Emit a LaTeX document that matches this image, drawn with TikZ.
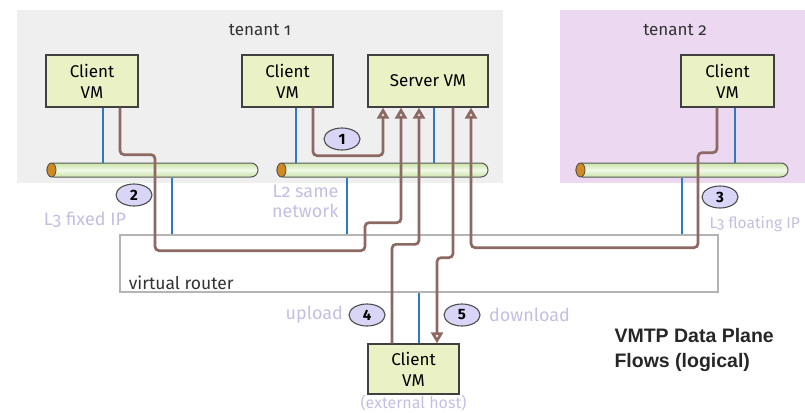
\documentclass[tikz,border=0pt]{standalone}
\usepackage{fontspec}
\setmainfont{Fira Sans}
\newfontfamily\oldfigs[Numbers=OldStyle]{Fira Sans}
\newfontfamily\arialfont{Liberation Sans}
\usetikzlibrary{positioning, arrows.meta, shapes.geometric}
\definecolor{tenantgray}{HTML}{EFEFEF}
\definecolor{tenantpink}{HTML}{ECD8F0}
\definecolor{vmgreen}{HTML}{EAF1C4}
\definecolor{busgreen}{HTML}{C9E3A6}
\definecolor{caporange}{HTML}{D08A22}
\definecolor{linkblue}{HTML}{2F78C6}
\definecolor{flowbrown}{HTML}{8C6963}
\definecolor{steplav}{HTML}{D9D5F6}
\definecolor{notelav}{HTML}{C6BEE2}
\definecolor{routergray}{HTML}{B4B4B4}

\begin{document}
\begin{tikzpicture}[x=1pt, y=-1pt, node distance=4pt,
    vm/.style={draw=black!75, fill=vmgreen, line width=1.3pt, align=center, inner sep=0pt, font=\fontsize{17}{21}\selectfont},
    bus/.style={draw=black!65, line width=1pt, rounded corners=7pt, minimum height=14pt, inner sep=0pt, top color=busgreen, bottom color=busgreen, middle color=busgreen!25},
    bus end/.style={ellipse, draw=black!70, fill=caporange, line width=0.8pt, minimum width=9pt, minimum height=14pt, inner sep=0pt},
    link/.style={draw=linkblue, line width=2.8pt},
    flow/.style={draw=flowbrown, line width=2.7pt, rounded corners=4pt},
    flow arrow/.style={flow, -{Triangle[open, length=11pt, width=12pt]}},
    step no/.style={ellipse, draw=black!70, fill=steplav, line width=1.1pt, minimum width=36pt, minimum height=22pt, inner sep=0pt, font=\bfseries\fontsize{15}{15}\selectfont},
    note/.style={text=notelav, font=\oldfigs\fontsize{18}{20}\selectfont},
    title/.style={text=black!80, font=\oldfigs\fontsize{17}{20}\selectfont}]
    \useasboundingbox (0,0) rectangle (805,412);

    \node[fill=tenantgray, minimum width=486pt, minimum height=173pt, inner sep=0pt, anchor=north west] (tenant 1) at (17,10) {};
    \node[fill=tenantpink, minimum width=270pt, minimum height=173pt, inner sep=0pt, anchor=north west] (tenant 2) at (560,10) {};
    \node[title] (tenant 1 title) at (260,30) {tenant 1};
    \node[title] (tenant 2 title) at (675,30) {tenant 2};

    \node[draw=routergray, line width=1.5pt, minimum width=598pt, minimum height=57pt, inner sep=0pt] (virtual router) at (419,263.5) {};
    \node[title, anchor=south west, font=\fontsize{17.5}{20}\selectfont] (router label) at ([xshift=6pt, yshift=0pt]virtual router.south west) {virtual router};

    \node[bus, minimum width=211pt] (bus 1) at (152.5,170) {};
    \node[bus, minimum width=211pt] (bus 2) at (382.5,170) {};
    \node[bus, minimum width=212pt] (bus 3) at (682,170) {};
    \node[bus end] (bus end 1) at ([xshift=5pt]bus 1.west) {};
    \node[bus end] (bus end 2) at ([xshift=5pt]bus 2.west) {};
    \node[bus end] (bus end 3) at ([xshift=5pt]bus 3.west) {};

    \node[vm, minimum width=92pt, minimum height=52pt] (client vm 1) at (92,81) {Client\\VM};
    \node[vm, minimum width=91pt, minimum height=52pt] (client vm 2) at (287.5,81) {Client\\VM};
    \node[vm, minimum width=120pt, minimum height=52pt] (server vm) at (428,81) {Server VM};
    \node[vm, minimum width=93pt, minimum height=52pt] (client vm 3) at (727.5,81) {Client\\VM};
    \node[vm, minimum width=91pt, minimum height=50pt] (external vm) at (413.5,369) {Client\\VM};

    \draw[link] ([xshift=11pt]client vm 1.south) -- ([xshift=11pt]client vm 1.south |- bus 1.north);
    \draw[link] ([xshift=8.5pt]client vm 2.south) -- ([xshift=8.5pt]client vm 2.south |- bus 2.north);
    \draw[link] ([xshift=6pt]server vm.south) -- ([xshift=6pt]server vm.south |- bus 2.north);
    \draw[link] ([xshift=7.5pt]client vm 3.south) -- ([xshift=7.5pt]client vm 3.south |- bus 3.north);
    \draw[link] ([xshift=19.5pt]bus 1.south) -- ([xshift=19.5pt]bus 1.south |- virtual router.north);
    \draw[link] ([xshift=-35.5pt]bus 2.south) -- ([xshift=-35.5pt]bus 2.south |- virtual router.north);
    \draw[link] (bus 3.south) -- (bus 3.south |- virtual router.north);
    \draw[link] ([xshift=5.5pt]external vm.north) -- ([xshift=5.5pt]external vm.north |- virtual router.south);

    \draw[flow arrow] ([xshift=25.5pt]client vm 2.south) -- ++(0,48) -| ([xshift=-45pt]server vm.south);
    \draw[flow arrow] ([xshift=28pt]client vm 1.south) -- ++(0,47) -- ++(35,0) -- ++(0,96) -- ++(210,0) -- ++(0,-28) -| ([xshift=-27pt]server vm.south);
    \draw[flow arrow] ([xshift=-10.5pt]client vm 3.south) -- ++(0,45) -- ++(-19,0) -- ++(0,95) -| ([xshift=43pt]server vm.south);
    \draw[flow arrow] ([xshift=-21.5pt]external vm.north) -- ++(0,-99) -| ([xshift=-9pt]server vm.south);
    \draw[flow arrow] ([xshift=25pt]server vm.south) -- ++(0,150) -| ([xshift=23.5pt]external vm.north);

    \node[step no] (step 1) at (342,139) {1};
    \node[step no] (step 2) at (134,195) {2};
    \node[step no] (step 3) at (720,197) {3};
    \node[step no] (step 4) at (367,315) {4};
    \node[step no] (step 5) at (462,315) {5};

    \node[note] (fixed ip) at (85,220) {L3 fixed IP};
    \node[note, align=right, anchor=east] (same network) at (342,201) {L2 same\\network};
    \node[note, anchor=west, font=\oldfigs\fontsize{15.5}{18}\selectfont] (floating ip) at (706,224) {L3 floating IP};
    \node[note, left=2pt of step 4] (upload) {upload};
    \node[note, right=5pt of step 5] (download) {download};
    \node[note, below=-3pt of external vm, font=\oldfigs\fontsize{16}{18}\selectfont] (external host) {(external host)};

    \node[anchor=north west, align=left, text=black!85, font=\arialfont\bfseries\fontsize{19.5}{25}\selectfont] (caption) at (611,325) {VMTP Data Plane\\Flows (logical)};
\end{tikzpicture}
\end{document}
